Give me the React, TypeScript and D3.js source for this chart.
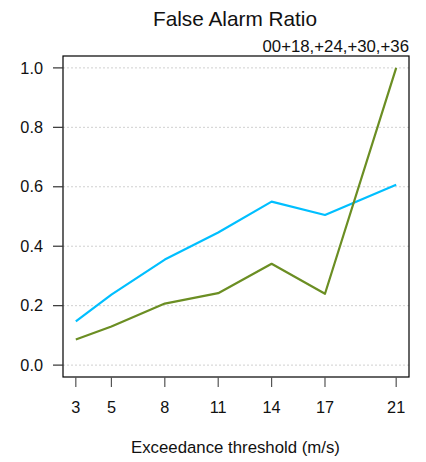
import React from "react";
import * as d3 from "d3";

const thresholds = [3, 5, 8, 11, 14, 17, 21];
const seriesBlue = [0.147, 0.237, 0.355, 0.446, 0.55, 0.505, 0.607];
const seriesGreen = [0.086, 0.13, 0.207, 0.242, 0.341, 0.24, 1.0];
const yTicks = [0, 0.2, 0.4, 0.6, 0.8, 1.0];
const title = "False Alarm Ratio";
const subtitle = "00+18,+24,+30,+36";
const xLabel = "Exceedance threshold (m/s)";

const W = 426, H = 462;
const left = 63, right = 409, top = 56, bottom = 377;
const font = "'Liberation Sans', Arial, Helvetica, sans-serif";

export default function App() {
  const x = d3.scaleLinear().domain([2.28, 21.72]).range([left, right]);
  const y = d3.scaleLinear().domain([-0.04, 1.04]).range([bottom, top]);
  const line = d3.line<number>().x((_, i) => x(thresholds[i])).y((d) => y(d));
  const series = [
    { vals: seriesBlue, color: "#00BFFF" },
    { vals: seriesGreen, color: "#6B8E23" },
  ];
  return (
    <svg width={W} height={H} style={{ position: "absolute", left: 0, top: 0 }} fontFamily={font}>
      <rect x={0} y={0} width={W} height={H} fill="#fff" />
      {yTicks.map((t) => (
        <line key={"g" + t} x1={left} x2={right} y1={y(t)} y2={y(t)} stroke="#d0d0d0" strokeWidth={1} strokeDasharray="2,2" />
      ))}
      {series.map((s, i) => (
        <path key={i} d={line(s.vals) || ""} fill="none" stroke={s.color} strokeWidth={2.2} strokeLinejoin="round" />
      ))}
      <rect x={left} y={top} width={right - left} height={bottom - top} fill="none" stroke="#000" strokeWidth={1.2} />
      {yTicks.map((t) => (
        <g key={"y" + t}>
          <line x1={left - 10} x2={left} y1={y(t)} y2={y(t)} stroke="#333" strokeWidth={1.2} />
          <text x={left - 20} y={y(t)} dy="0.35em" textAnchor="end" fontSize={16.3} fill="#111">
            {t.toFixed(1)}
          </text>
        </g>
      ))}
      {thresholds.map((t) => (
        <g key={"x" + t}>
          <line x1={x(t)} x2={x(t)} y1={bottom} y2={bottom + 10} stroke="#555" strokeWidth={1.2} />
          <text x={x(t)} y={413} textAnchor="middle" fontSize={16.3} fill="#111">
            {t}
          </text>
        </g>
      ))}
      <text x={(left + right) / 2 - 1} y={26} textAnchor="middle" fontSize={20.8} fill="#111">
        {title}
      </text>
      <text x={right} y={52} textAnchor="end" fontSize={16.8} fill="#111">
        {subtitle}
      </text>
      <text x={(left + right) / 2 - 0.5} y={453} textAnchor="middle" fontSize={16.8} fill="#111">
        {xLabel}
      </text>
    </svg>
  );
}
